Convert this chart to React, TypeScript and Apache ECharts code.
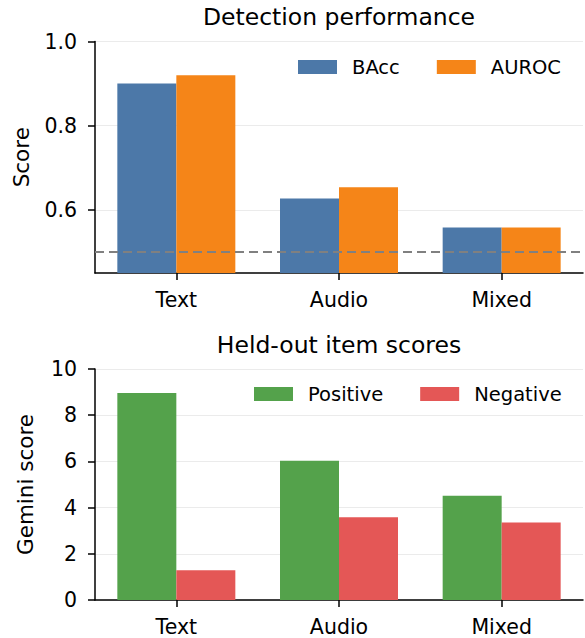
import React, { useEffect, useRef } from "react";
import * as echarts from "echarts";

const categories = ["Text", "Audio", "Mixed"];
const bacc = [0.9, 0.627, 0.558];
const auroc = [0.92, 0.654, 0.558];
const positive = [8.96, 6.03, 4.51];
const negative = [1.29, 3.58, 3.35];
const topTicks = [0.6, 0.8, 1.0];
const chanceLevel = 0.5;

const FONT = "DejaVu Sans";
const C_BLUE = "#4c78a8";
const C_ORANGE = "#f58518";
const C_GREEN = "#54a24b";
const C_RED = "#e45756";
const GRID_C = "#ebebeb";
const TICK_FS = 20.5;
const LEGEND_FS = 19.5;
const NAME_FS = 21.5;
const TITLE_FS = 23.5;

export default function App() {
  const ref = useRef<HTMLDivElement>(null);
  useEffect(() => {
    const chart = echarts.init(ref.current!, undefined, { renderer: "svg" });
    const axisLine = { show: true, lineStyle: { color: "#000", width: 1.5 } };
    const axisTick = { show: true, length: 7, lineStyle: { color: "#000", width: 1.5 } };
    const xAxisCommon = {
      type: "category",
      data: categories,
      axisLine,
      axisTick: { ...axisTick, alignWithLabel: true },
      axisLabel: { color: "#000", fontSize: TICK_FS, margin: 16, fontFamily: FONT },
      splitLine: { show: false },
    };
    const legendCommon = {
      padding: 0,
      itemWidth: 39,
      itemHeight: 14,
      itemGap: 37,
      icon: "rect",
      textStyle: { fontSize: LEGEND_FS, color: "#000", fontFamily: FONT, padding: [0, 0, 0, 10] },
    };
    chart.setOption({
      animation: false,
      textStyle: { fontFamily: FONT },
      graphic: [
        {
          type: "text",
          x: 339,
          y: 5,
          style: { text: "Detection performance", fontSize: TITLE_FS, fontFamily: FONT, fill: "#000", textAlign: "center" },
        },
        {
          type: "text",
          x: 339,
          y: 333,
          style: { text: "Held-out item scores", fontSize: TITLE_FS, fontFamily: FONT, fill: "#000", textAlign: "center" },
        },
      ],
      legend: [
        { ...legendCommon, data: ["BAcc", "AUROC"], left: 298, top: 57 },
        { ...legendCommon, data: ["Positive", "Negative"], left: 254, top: 384 },
      ],
      grid: [
        { left: 95, right: 2, top: 41.5, height: 231.5 },
        { left: 95, right: 2, top: 369, height: 231 },
      ],
      xAxis: [
        { ...xAxisCommon, gridIndex: 0 },
        { ...xAxisCommon, gridIndex: 1 },
      ],
      yAxis: [
        {
          type: "value",
          gridIndex: 0,
          min: 0.45,
          max: 1.0,
          name: "Score",
          nameLocation: "middle",
          nameGap: 63,
          nameTextStyle: { fontSize: NAME_FS, color: "#000", fontFamily: FONT },
          axisLine,
          axisTick: { ...axisTick, customValues: topTicks },
          axisLabel: {
            customValues: topTicks,
            color: "#000",
            fontSize: TICK_FS,
            margin: 18,
            fontFamily: FONT,
            formatter: (v: number) => v.toFixed(1),
          },
          splitLine: { show: false },
        },
        {
          type: "value",
          gridIndex: 1,
          min: 0,
          max: 10,
          interval: 2,
          name: "Gemini score",
          nameLocation: "middle",
          nameGap: 59,
          nameTextStyle: { fontSize: NAME_FS, color: "#000", fontFamily: FONT },
          axisLine,
          axisTick,
          axisLabel: { color: "#000", fontSize: TICK_FS, margin: 18, fontFamily: FONT },
          splitLine: { show: true, lineStyle: { color: GRID_C, width: 1 } },
        },
      ],
      series: [
        {
          name: "BAcc",
          type: "bar",
          xAxisIndex: 0,
          yAxisIndex: 0,
          data: bacc,
          barWidth: 59,
          barGap: "0%",
          itemStyle: { color: C_BLUE },
          markLine: {
            silent: true,
            symbol: "none",
            z: 0,
            label: { show: false },
            lineStyle: { color: GRID_C, width: 1, type: "solid" },
            data: topTicks.map((v) => ({ yAxis: v })),
          },
        },
        {
          name: "AUROC",
          type: "bar",
          xAxisIndex: 0,
          yAxisIndex: 0,
          data: auroc,
          barWidth: 59,
          barGap: "0%",
          itemStyle: { color: C_ORANGE },
          markLine: {
            silent: true,
            symbol: "none",
            z: 10,
            label: { show: false },
            lineStyle: { color: "#808080", width: 1.8, type: [9, 5] },
            data: [{ yAxis: chanceLevel }],
          },
        },
        {
          name: "Positive",
          type: "bar",
          xAxisIndex: 1,
          yAxisIndex: 1,
          data: positive,
          barWidth: 59,
          barGap: "0%",
          itemStyle: { color: C_GREEN },
        },
        {
          name: "Negative",
          type: "bar",
          xAxisIndex: 1,
          yAxisIndex: 1,
          data: negative,
          barWidth: 59,
          barGap: "0%",
          itemStyle: { color: C_RED },
        },
      ],
    });
    return () => chart.dispose();
  }, []);
  return <div ref={ref} style={{ width: 585, height: 638, position: "absolute", left: 0, top: 0 }} />;
}
